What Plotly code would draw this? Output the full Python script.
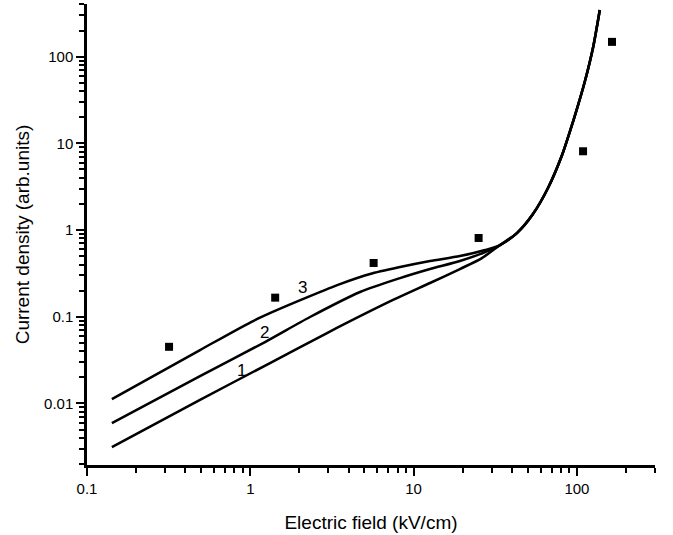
import math
import plotly.graph_objects as go

# Curves (electric field kV/cm, current density arb. units)
field_1 = [0.142, 0.492, 1.32, 2.95, 7.48, 12.6, 19.2, 26.2, 33.8, 42.9, 53.8, 66.5, 81.1, 90.8, 100, 112, 126, 138]
dens_1 = [0.00314, 0.011, 0.0292, 0.0649, 0.156, 0.245, 0.355, 0.475, 0.671, 0.923, 1.53, 3.05, 7.33, 13.9, 24.9, 52.3, 132, 345]

field_2 = [0.142, 0.492, 1.23, 2.32, 4.70, 8.26, 12.6, 19.2, 27.4, 33.8, 42.9, 53.8, 66.5, 81.1, 90.8, 100, 112, 126, 138]
dens_2 = [0.00594, 0.0207, 0.0511, 0.0993, 0.193, 0.279, 0.355, 0.439, 0.557, 0.671, 0.923, 1.53, 3.05, 7.33, 13.9, 24.9, 52.3, 132, 345]

field_3 = [0.142, 0.492, 1.01, 1.36, 2.32, 3.54, 5.41, 8.26, 12.6, 19.2, 27.4, 33.8, 42.9, 53.8, 66.5, 81.1, 90.8, 100, 112, 126, 138]
dens_3 = [0.0112, 0.0413, 0.0869, 0.113, 0.173, 0.238, 0.311, 0.374, 0.439, 0.501, 0.588, 0.671, 0.923, 1.53, 3.05, 7.33, 13.9, 24.9, 52.3, 132, 345]

# Experimental points
exp_field = [0.318, 1.42, 5.69, 25.0, 109, 164]
exp_dens = [0.045, 0.166, 0.417, 0.81, 8.1, 148]

# Curve labels
label_text = ["1", "2", "3"]
label_x = [0.889, 1.23, 2.10]
label_y = [0.0243, 0.0666, 0.220]

x_tickvals = [0.1, 1, 10, 100]
x_ticktext = ["0.1", "1", "10", "100"]
y_tickvals = [0.01, 0.1, 1, 10, 100]
y_ticktext = ["0.01", "0.1", "1", "10", "100"]

x_minor = [m * 10 ** e for e in (-1, 0, 1, 2) for m in range(2, 10) if m * 10 ** e <= 300]
y_minor = [m * 10 ** e for e in (-3, -2, -1, 0, 1, 2) for m in range(2, 10) if 0.002 <= m * 10 ** e <= 400]

FONT = "Liberation Sans, Arial, sans-serif"

fig = go.Figure()
for fx, fy in [(field_1, dens_1), (field_2, dens_2), (field_3, dens_3)]:
    fig.add_trace(go.Scatter(x=fx, y=fy, mode="lines",
                             line=dict(color="black", width=2.5, shape="spline", smoothing=0.7),
                             showlegend=False, hoverinfo="skip"))

fig.add_trace(go.Scatter(x=exp_field, y=exp_dens, mode="markers",
                         marker=dict(symbol="square", size=8, color="black"),
                         showlegend=False))

for t, lx, ly in zip(label_text, label_x, label_y):
    fig.add_annotation(x=math.log10(lx), y=math.log10(ly), xref="x", yref="y", text=t,
                       showarrow=False, font=dict(family=FONT, size=17, color="black"))

fig.update_layout(
    width=673, height=535,
    margin=dict(l=87, r=18, t=4, b=70, autoexpand=False),
    paper_bgcolor="white", plot_bgcolor="white",
    font=dict(family=FONT, size=15, color="black"),
    xaxis=dict(type="log", range=[-1, 2.478], showline=True, linewidth=2.5, linecolor="black",
               ticks="outside", ticklen=8, tickwidth=2, tickcolor="black", automargin=False,
               tickvals=x_tickvals, ticktext=x_ticktext, showgrid=False, zeroline=False,
               tickfont=dict(family=FONT, size=15),
               minor=dict(tickvals=x_minor, ticks="outside", ticklen=5, tickwidth=2,
                          tickcolor="black", showgrid=False),
               title=dict(text="Electric field (kV/cm)", standoff=20,
                          font=dict(family=FONT, size=19))),
    yaxis=dict(type="log", range=[-2.710, 2.607], showline=True, linewidth=2.5, linecolor="black",
               ticks="outside", ticklen=8, tickwidth=2, tickcolor="black", automargin=False,
               tickvals=y_tickvals, ticktext=y_ticktext, showgrid=False, zeroline=False,
               tickfont=dict(family=FONT, size=15),
               minor=dict(tickvals=y_minor, ticks="outside", ticklen=5, tickwidth=2,
                          tickcolor="black", showgrid=False),
               title=dict(text="Current density (arb.units)", standoff=10,
                          font=dict(family=FONT, size=19))),
)

fig.write_html("out.html", config={"displayModeBar": False},
               post_script="document.body.style.margin='0px';")
